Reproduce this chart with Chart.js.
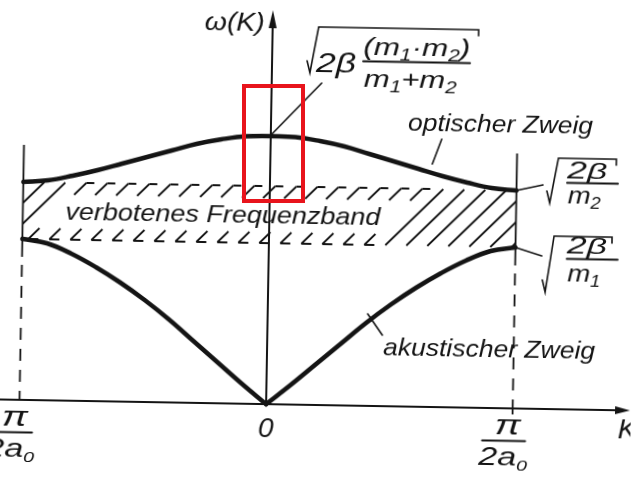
<!DOCTYPE html>
<html>
<head>
<meta charset="utf-8">
<script src="https://cdn.jsdelivr.net/npm/chart.js@4/dist/chart.umd.min.js"></script>
<style>
  html, body { margin: 0; padding: 0; background: #fff; overflow: hidden; width: 634px; height: 478px; }
  #wrap { position: relative; width: 634px; height: 478px; }
  #plot { position: absolute; left: 0; top: 0; transform: rotate(1deg); transform-origin: 317px 239px; }
  #mark { position: absolute; left: 242px; top: 84px; width: 63px; height: 119px; box-sizing: border-box; border: 4px solid #e8141c; }
</style>
</head>
<body>
<div id="wrap">
  <canvas id="plot" width="634" height="478"></canvas>
  <div id="mark"></div>
</div>
<script>
// Wave number K in units of pi/(2 a0); the Brillouin zone edge sits at K = ±1
const kValues = [-1, -0.9, -0.8, -0.7, -0.6, -0.5, -0.4, -0.3, -0.2, -0.1, 0,
                 0.1, 0.2, 0.3, 0.4, 0.5, 0.6, 0.7, 0.8, 0.9, 1];
// omega(K), arbitrary units
const opticalBranch  = [2.18, 2.20, 2.25, 2.31, 2.38, 2.45, 2.52, 2.59, 2.64, 2.675, 2.68,
                        2.675, 2.64, 2.59, 2.52, 2.45, 2.38, 2.31, 2.25, 2.20, 2.18];
const acousticBranch = [1.61, 1.57, 1.47, 1.34, 1.19, 1.02, 0.83, 0.62, 0.41, 0.20, 0,
                        0.20, 0.41, 0.62, 0.83, 1.02, 1.19, 1.34, 1.47, 1.57, 1.61];
const zoneEdges = [-1, 1];
const tickK = [-1, 0, 1];

const INK = '#141414';
const FONT = '"Liberation Sans", "DejaVu Sans", sans-serif';

const pts = (ks, ws) => ks.map((k, i) => ({ x: k, y: ws[i] }));
const mid = kValues.indexOf(0);

// italic lettering, optionally stretched to a given width
function letter(ctx, s, x, y, size, width, align) {
  ctx.font = `italic ${size}px ${FONT}`;
  const m = ctx.measureText(s).width;
  const w = width || m;
  let x0 = x;
  if (align === 'center') x0 = x - w / 2;
  else if (align === 'right') x0 = x - w;
  ctx.save();
  ctx.translate(x0, y);
  ctx.scale(w / m, 1);
  ctx.textAlign = 'left';
  ctx.textBaseline = 'alphabetic';
  ctx.fillText(s, 0, 0);
  ctx.restore();
  return x0 + w;
}

// a run of pieces [text, baseline shift, size], stretched to a total width
function run(ctx, x, y, parts, width) {
  let total = 0;
  for (const [s, , size] of parts) {
    ctx.font = `italic ${size}px ${FONT}`;
    total += ctx.measureText(s).width;
  }
  const sx = width ? width / total : 1;
  ctx.save();
  ctx.translate(x, y);
  ctx.scale(sx, 1);
  let cx = 0;
  for (const [s, dy, size] of parts) {
    ctx.font = `italic ${size}px ${FONT}`;
    ctx.fillText(s, cx, dy);
    cx += ctx.measureText(s).width;
  }
  ctx.restore();
  return x + total * sx;
}

function seg(ctx, x1, y1, x2, y2) {
  ctx.beginPath(); ctx.moveTo(x1, y1); ctx.lineTo(x2, y2); ctx.stroke();
}

function radical(ctx, x, yTop, yBot, xEnd) {
  ctx.beginPath();
  ctx.moveTo(x - 3, yBot - 12);
  ctx.lineTo(x, yBot);
  ctx.lineTo(x + 8, yTop);
  ctx.lineTo(xEnd, yTop);
  ctx.lineTo(xEnd, yTop + 6);
  ctx.stroke();
}

const sheet = {
  id: 'sheet',
  beforeDatasetsDraw(chart) {
    const { ctx, scales: { x, y } } = chart;
    const X = v => x.getPixelForValue(v), Y = v => y.getPixelForValue(v);
    const y0 = Y(0), x0 = X(0);
    ctx.save();
    ctx.strokeStyle = INK; ctx.fillStyle = INK; ctx.lineCap = 'butt';

    // forbidden band between the branch ends at the zone edge
    const top = Y(opticalBranch[0]), bot = Y(acousticBranch[0]);
    const left = X(zoneEdges[0]), right = X(zoneEdges[1]);
    const h = bot - top;
    ctx.save();
    ctx.beginPath(); ctx.rect(left, top - 1, right - left, h + 2); ctx.clip();
    ctx.lineWidth = 1.8;
    const step = 21;
    for (let xb = left - h; xb < right + 4; xb += step) {
      const full = xb + h < left + 58 || xb > 382;
      if (full) {
        seg(ctx, xb, bot, xb + h, top);
      } else {
        // short strokes along the upper and lower edge
        seg(ctx, xb + h - 12, top + 12, xb + h, top);
        seg(ctx, xb + h, top, xb + h + 8, top);
        seg(ctx, xb, bot, xb + 11, bot - 11);
        seg(ctx, xb, bot, xb + 10, bot);
      }
    }
    ctx.restore();

    // zone-edge markers
    ctx.lineWidth = 1.8;
    for (const k of zoneEdges) {
      const px = X(k);
      seg(ctx, px, Y(2.55), px, bot + 18);
      ctx.setLineDash([12, 9]);
      seg(ctx, px, bot + 26, px, y0);
      ctx.setLineDash([]);
    }
    seg(ctx, X(1), y0, X(1), y0 + 6);

    // axes with arrow heads
    ctx.lineWidth = 2;
    const xTip = chart.width - 1;
    seg(ctx, 0, y0, xTip - 10, y0);
    ctx.beginPath(); ctx.moveTo(xTip, y0); ctx.lineTo(xTip - 15, y0 - 4); ctx.lineTo(xTip - 15, y0 + 4); ctx.closePath(); ctx.fill();
    const yTip = 11;
    seg(ctx, x0, y0, x0, yTip + 12);
    ctx.beginPath(); ctx.moveTo(x0, yTip); ctx.lineTo(x0 - 4, yTip + 18); ctx.lineTo(x0 + 4, yTip + 18); ctx.closePath(); ctx.fill();
    ctx.restore();
  },
  afterDatasetsDraw(chart) {
    const { ctx, scales: { x, y } } = chart;
    const X = v => x.getPixelForValue(v), Y = v => y.getPixelForValue(v);
    ctx.save();
    ctx.strokeStyle = INK; ctx.fillStyle = INK; ctx.lineWidth = 1.6; ctx.lineCap = 'round';

    // axis labels
    letter(ctx, 'ω(K)', 201, 32, 25, 60);
    letter(ctx, 'K', 621, 433, 28);
    for (const k of tickK) {
      if (k === 0) { letter(ctx, '0', X(0), 438, 28, null, 'center'); continue; }
      const cx = X(k) - 8.5;
      if (k < 0) letter(ctx, '−', cx - 24, 446, 26, null, 'right');
      letter(ctx, 'π', cx + 4, 431, 27, 26, 'center');
      ctx.lineWidth = 2; seg(ctx, cx - 21.5, 437.5, cx + 21.5, 437.5);
      run(ctx, cx - 25, 462, [['2a', 0, 26], ['0', 5, 15]], 49);
    }
    ctx.lineWidth = 1.6;

    // optical maximum at K = 0
    seg(ctx, X(0), Y(opticalBranch[mid]) - 1, 319, 83);
    radical(ctx, 307, 27, 73, 475);
    letter(ctx, '2β', 313, 72, 27, 40);
    run(ctx, 360, 54, [['(m', 0, 24], ['1', 5, 16], ['·m', 0, 24], ['2', 5, 16], [')', 0, 24]], 107);
    ctx.lineWidth = 1.8; seg(ctx, 360, 60.5, 467, 60.5); ctx.lineWidth = 1.6;
    run(ctx, 361, 86, [['m', 0, 24], ['1', 5, 16], ['+m', 0, 24], ['2', 5, 16]], 93);

    // zone-edge frequencies
    const yO = Y(opticalBranch[0]), yA = Y(acousticBranch[0]);
    seg(ctx, X(1), yO, 542, yO - 6);
    radical(ctx, 549, 154, 199, 615);
    letter(ctx, '2β', 566, 173.5, 23, 40);
    ctx.lineWidth = 1.8; seg(ctx, 566, 178.5, 617, 178.5); ctx.lineWidth = 1.6;
    run(ctx, 567, 198.5, [['m', 0, 24], ['2', 5, 16]], 33);

    seg(ctx, X(1), yA, 542, yA + 8);
    radical(ctx, 546, 232, 288, 612);
    letter(ctx, '2β', 567, 248.5, 23, 40);
    ctx.lineWidth = 1.8; seg(ctx, 567, 254.5, 618, 254.5); ctx.lineWidth = 1.6;
    run(ctx, 568, 277, [['m', 0, 24], ['1', 5, 16]], 33);

    // branch names
    letter(ctx, 'optischer Zweig', 406, 129, 24, 185);
    seg(ctx, 440, 137, 431, 162);
    letter(ctx, 'akustischer Zweig', 385, 354, 24, 212);
    seg(ctx, 369, 313, 384, 334);
    letter(ctx, 'verbotenes Frequenzband', 65, 223.5, 24, 315);
    ctx.restore();
  }
};

const line = (data) => ({
  data, borderColor: INK, borderWidth: 4.5, pointRadius: 0, tension: 0.4,
  fill: false, borderCapStyle: 'round', borderJoinStyle: 'round'
});

new Chart(document.getElementById('plot'), {
  type: 'line',
  data: {
    datasets: [
      line(pts(kValues, opticalBranch)),
      line(pts(kValues.slice(0, mid + 1), acousticBranch.slice(0, mid + 1))),
      line(pts(kValues.slice(mid), acousticBranch.slice(mid)))
    ]
  },
  options: {
    responsive: false,
    animation: false,
    devicePixelRatio: 1,
    layout: { padding: 0 },
    plugins: { legend: { display: false }, tooltip: { enabled: false } },
    scales: {
      x: { type: 'linear', display: false, min: -1.0908, max: 1.4802 },
      y: { type: 'linear', display: false, min: -0.73, max: 4.05 }
    }
  },
  plugins: [sheet]
});
</script>
</body>
</html>
